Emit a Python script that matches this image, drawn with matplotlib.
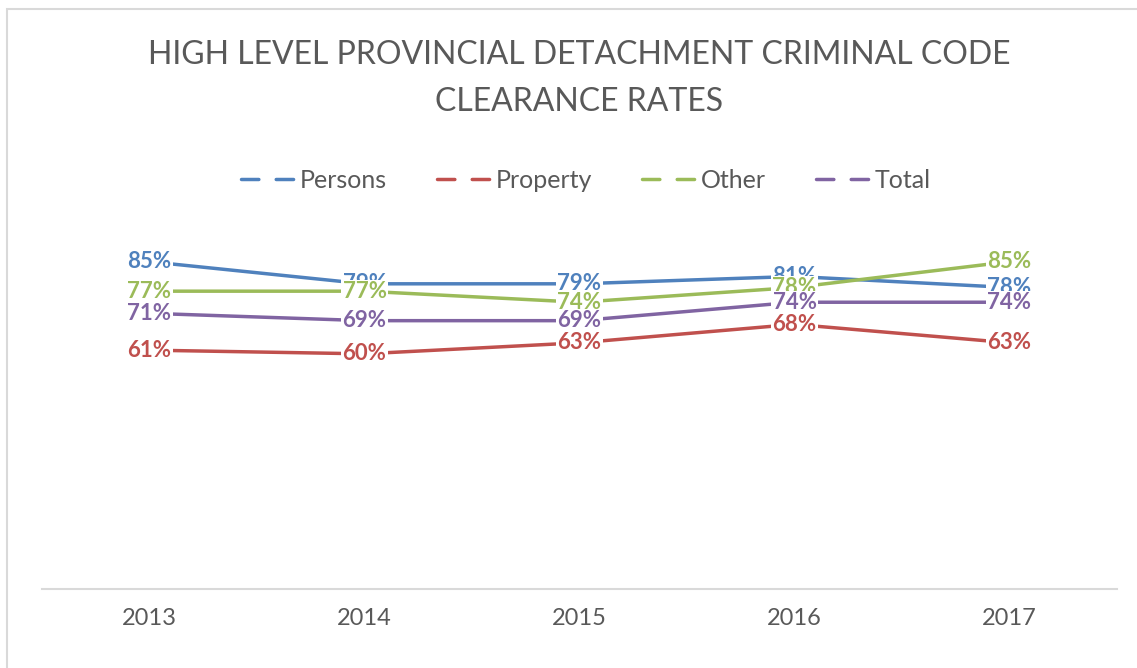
import matplotlib
matplotlib.use('Agg')
import matplotlib.pyplot as plt
from matplotlib.patches import Rectangle

years = ['2013', '2014', '2015', '2016', '2017']
persons = [85, 79, 79, 81, 78]
property_ = [61, 60, 63, 68, 63]
other = [77, 77, 74, 78, 85]
total = [71, 69, 69, 74, 74]

series = [
    ('Persons', persons, '#4F81BD'),
    ('Property', property_, '#C0504D'),
    ('Other', other, '#9BBB59'),
    ('Total', total, '#8064A2'),
]

plt.rcParams['font.family'] = ['Lato', 'DejaVu Sans']

W, H = 1137, 668
fig = plt.figure(figsize=(W / 100, H / 100), dpi=100)

# chart-area border (only left and top visible in the crop)
fig.patches.append(Rectangle((7 / W, -0.1), 1.2, 1 - 9.5 / H + 0.1,
                             transform=fig.transFigure, fill=False,
                             edgecolor='#D9D9D9', linewidth=1.5))

ax = fig.add_axes([42 / W, 1 - 589 / H, 1075 / W, (589 - 206.4) / H])
x = list(range(len(years)))

for name, vals, color in series:
    ax.plot(x, vals, color=color, linewidth=2.5, solid_capstyle='round',
            label=name, zorder=2)

# data labels sit on the points with a white box, drawn series by series
z = 3
for name, vals, color in series:
    for xi, v in zip(x, vals):
        ax.text(xi, v, f'{v}%', ha='center', va='center', color=color,
                fontsize=16, fontweight='bold', zorder=z,
                bbox=dict(boxstyle='square,pad=0.05', facecolor='white',
                          edgecolor='none'))
    z += 1

ax.set_xlim(-0.5, 4.5)
ax.set_ylim(-3.8, 100)
ax.set_xticks(x)
ax.set_xticklabels(years)
ax.set_yticks([])
ax.tick_params(axis='x', length=0, pad=14, labelsize=17, labelcolor='#595959')
for s in ['top', 'right', 'left']:
    ax.spines[s].set_visible(False)
ax.spines['bottom'].set_color('#D9D9D9')
ax.spines['bottom'].set_linewidth(1.5)

fig.text(579 / W, 1 - 55 / H, 'HIGH LEVEL PROVINCIAL DETACHMENT CRIMINAL CODE',
         ha='center', va='center', fontsize=23, color='#595959')
fig.text(579 / W, 1 - 102 / H, 'CLEARANCE RATES',
         ha='center', va='center', fontsize=23, color='#595959')

handles = [plt.Line2D([], [], color=c, linewidth=2.5,
                      linestyle=(0, (5.0, 5.0)), dash_capstyle='round')
           for _, _, c in series]
fig.legend(handles, [n for n, _, _ in series], loc='center',
           bbox_to_anchor=(586 / W, 1 - 180 / H), ncol=4, frameon=False,
           fontsize=18, labelcolor='#595959', handlelength=2.2,
           handletextpad=0.15, columnspacing=2.0)

fig.savefig('out.png', dpi=100, facecolor='white')
